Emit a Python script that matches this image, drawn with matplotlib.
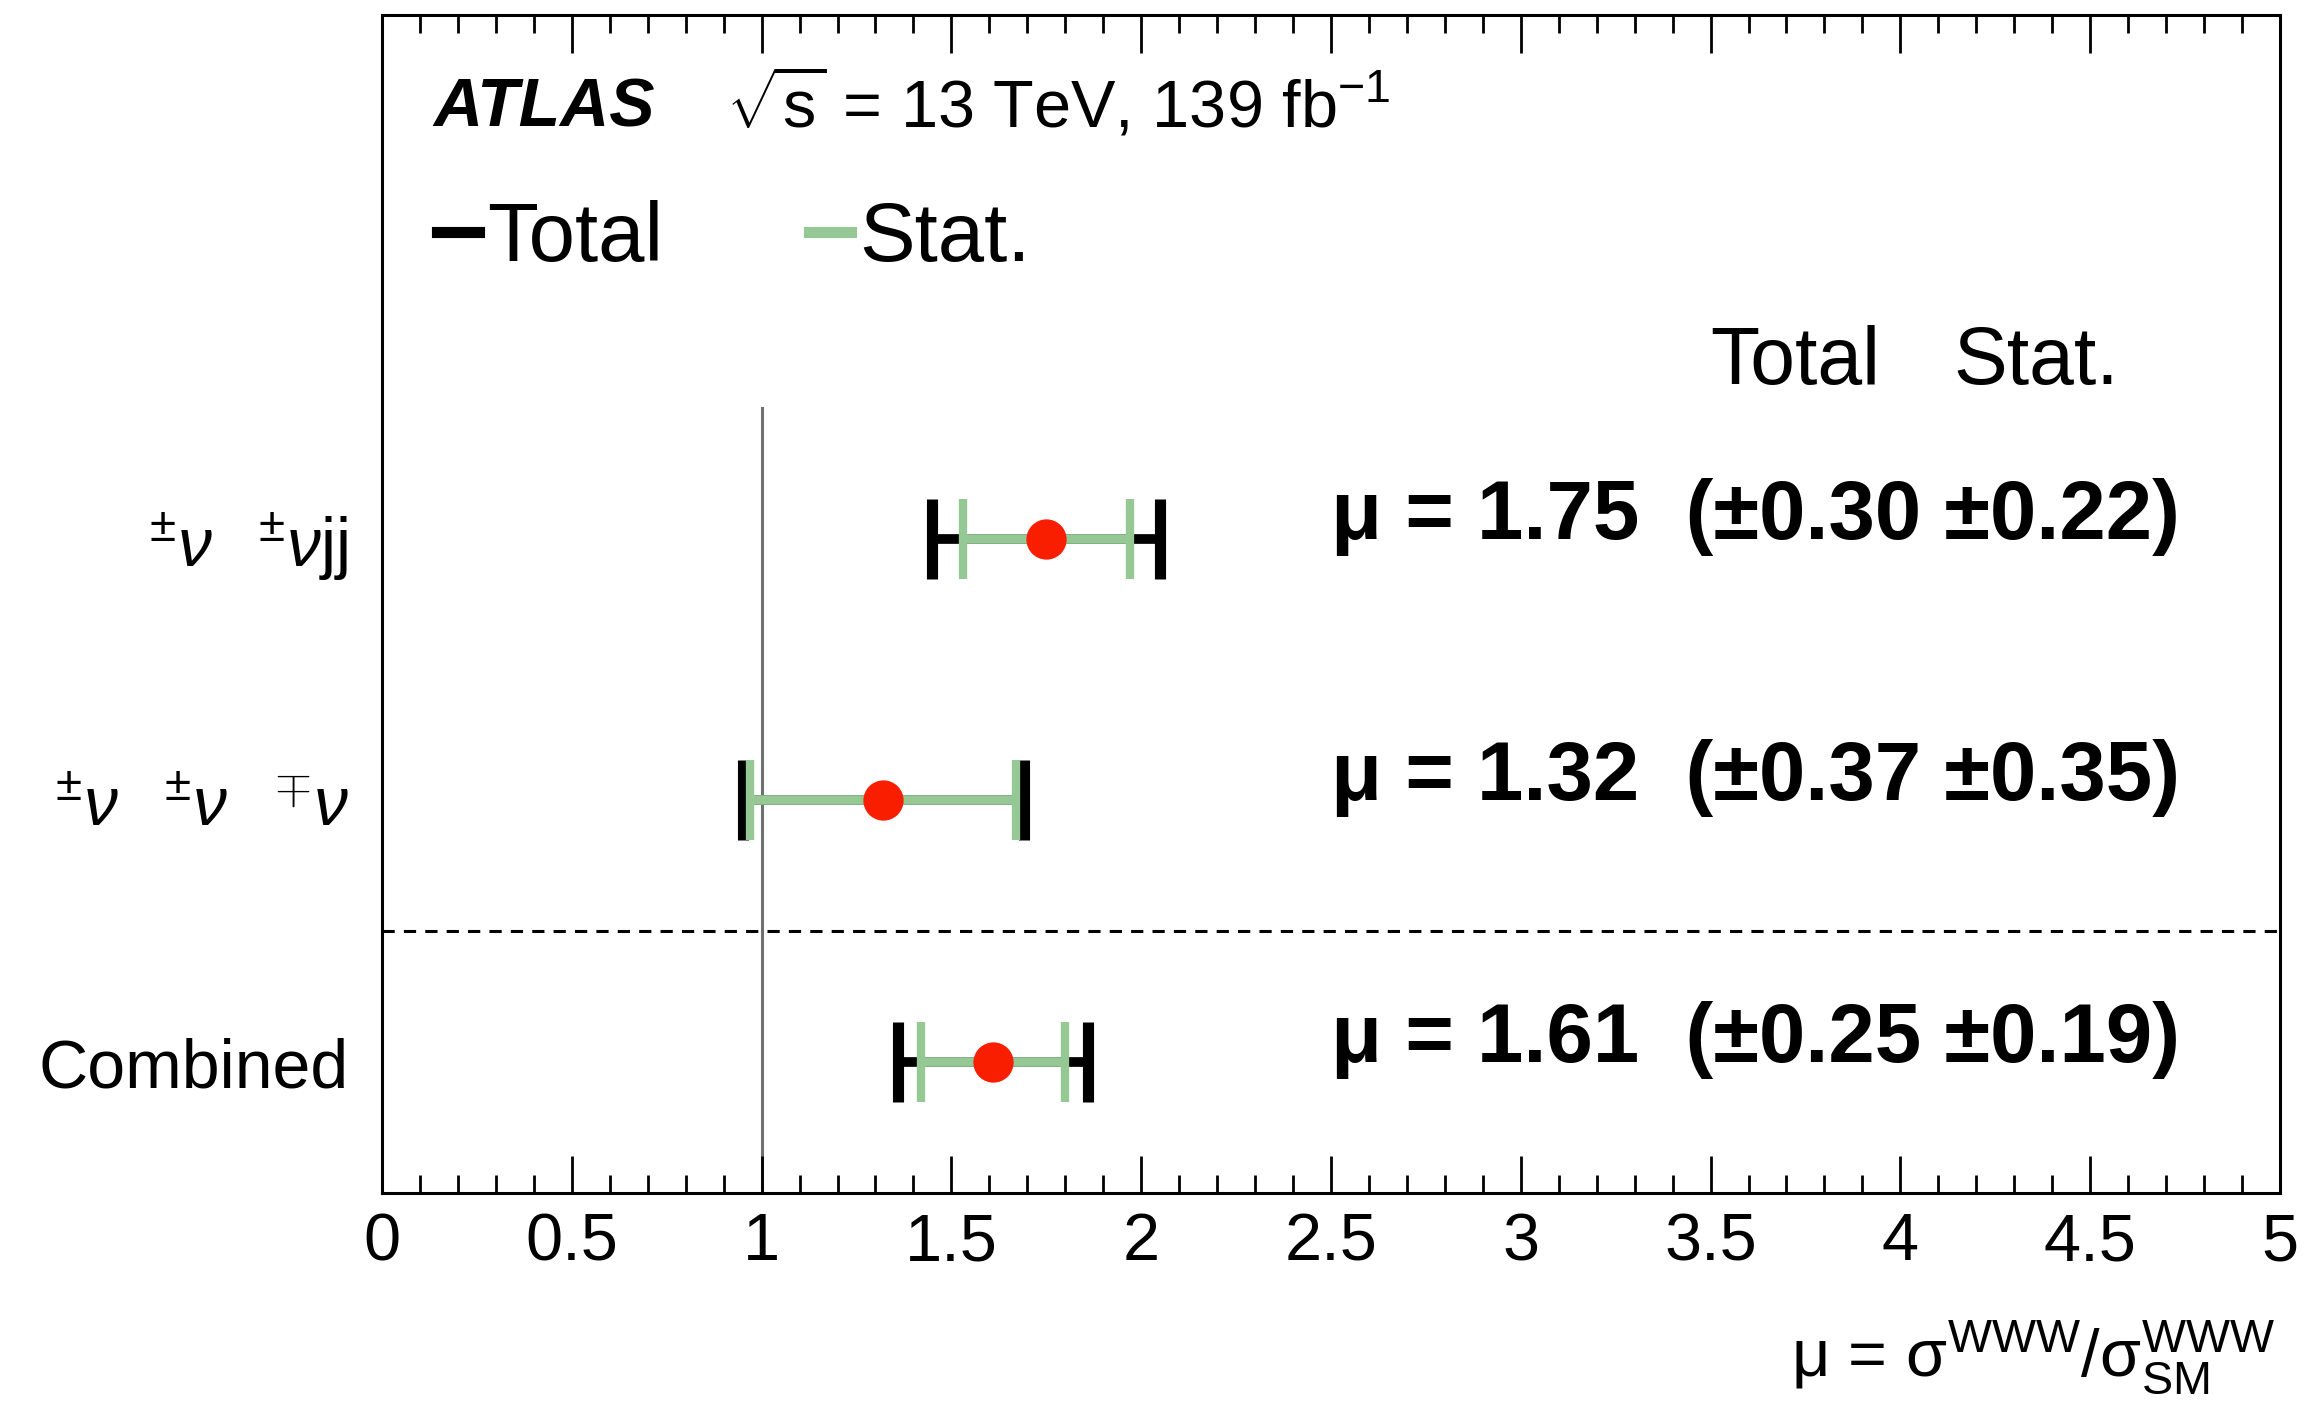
import numpy as np
import matplotlib
matplotlib.use("Agg")
import matplotlib.pyplot as plt
from matplotlib.lines import Line2D
from matplotlib.ticker import MultipleLocator, FuncFormatter

plt.rcParams["font.family"] = ["Liberation Sans", "DejaVu Sans"]
plt.rcParams["mathtext.fontset"] = "custom"
plt.rcParams["mathtext.rm"] = "Liberation Sans"
plt.rcParams["mathtext.it"] = "Liberation Sans:italic"
plt.rcParams["mathtext.bf"] = "Liberation Sans:bold"

# channels, top to bottom
channels = [r"$\;\;{}^{\pm}\nu\;\;\;{}^{\pm}\nu$jj",
            r"$\;\;{}^{\pm}\nu\;\;\;{}^{\pm}\nu\;\;\;{}^{\mp}\nu$",
            "Combined"]
mu = [1.75, 1.32, 1.61]
err_total = [0.30, 0.37, 0.25]
err_stat = [0.22, 0.35, 0.19]

ypos = np.arange(len(channels))[::-1]

green = "#96c896"
red = "#fa1e00"

fig = plt.figure(figsize=(23.21, 14.02), dpi=100)
ax = fig.add_axes([0.1646, 0.1491, 0.8177, 0.8402])

# total then stat error bars, point on top
ax.errorbar(mu, ypos, xerr=err_total, fmt="none", ecolor="black",
            elinewidth=7, capsize=29, capthick=8, zorder=3)
ax.errorbar(mu, ypos, xerr=err_stat, fmt="none", ecolor=green,
            elinewidth=7, capsize=29, capthick=6, zorder=4)
ax.plot(mu, ypos, "o", color=red, markersize=29, markeredgewidth=0, zorder=5)

# SM line and separator
ax.plot([1, 1], [-0.5, 2.5], color="#707070", lw=2.2, zorder=1)
ax.axhline(0.5, color="black", lw=2.2, ls=(0, (4, 3)), zorder=1)

for y, m, t, s in zip(ypos, mu, err_total, err_stat):
    ax.text(2.5, y, "μ = %.2f  (±%.2f ±%.2f)" % (m, t, s),
            fontsize=60, fontweight="bold", va="baseline", ha="left")

ax.text(3.5, 2.59, "Total", fontsize=58, va="baseline")
ax.text(4.14, 2.59, "Stat.", fontsize=58, va="baseline")

ax.text(0.027, 0.905, "ATLAS", transform=ax.transAxes, fontsize=49,
        fontweight="bold", fontstyle="italic", va="baseline")
ax.text(0.181, 0.905, r"$\sqrt{\mathregular{s}}$ = 13 TeV, 139 fb$^{\mathregular{-1}}$",
        transform=ax.transAxes, fontsize=48, va="baseline")

handles = [Line2D([], [], color="black", lw=8),
           Line2D([], [], color=green, lw=8)]
ax.legend(handles, ["Total", "Stat."], loc="center left",
          bbox_to_anchor=(0.029, 0.81), ncol=2, frameon=False,
          fontsize=60, handlelength=0.5, handletextpad=0.1,
          columnspacing=1.75, borderpad=0, borderaxespad=0)

ax.set_xlim(0, 5)
ax.set_ylim(-0.5, 4.0)
ax.set_yticks(ypos)
ax.set_yticklabels(channels, fontsize=49)
ax.tick_params(axis="y", length=0, pad=24)
ax.xaxis.set_major_locator(MultipleLocator(0.5))
ax.xaxis.set_minor_locator(MultipleLocator(0.1))
ax.xaxis.set_major_formatter(FuncFormatter(lambda v, p: "%g" % v))
ax.tick_params(axis="x", which="both", direction="in", top=True, width=2, labelsize=48, pad=14)
ax.tick_params(axis="x", which="major", length=27)
ax.tick_params(axis="x", which="minor", length=13)
for sp in ax.spines.values():
    sp.set_linewidth(2.2)

fig.text(0.980, 0.0185,
         r"μ = σ$^{\mathregular{WWW}}$/σ$^{\mathregular{WWW}}_{\mathregular{SM}}$",
         fontsize=48, ha="right", va="baseline")

plt.savefig("out.png", dpi=100)
